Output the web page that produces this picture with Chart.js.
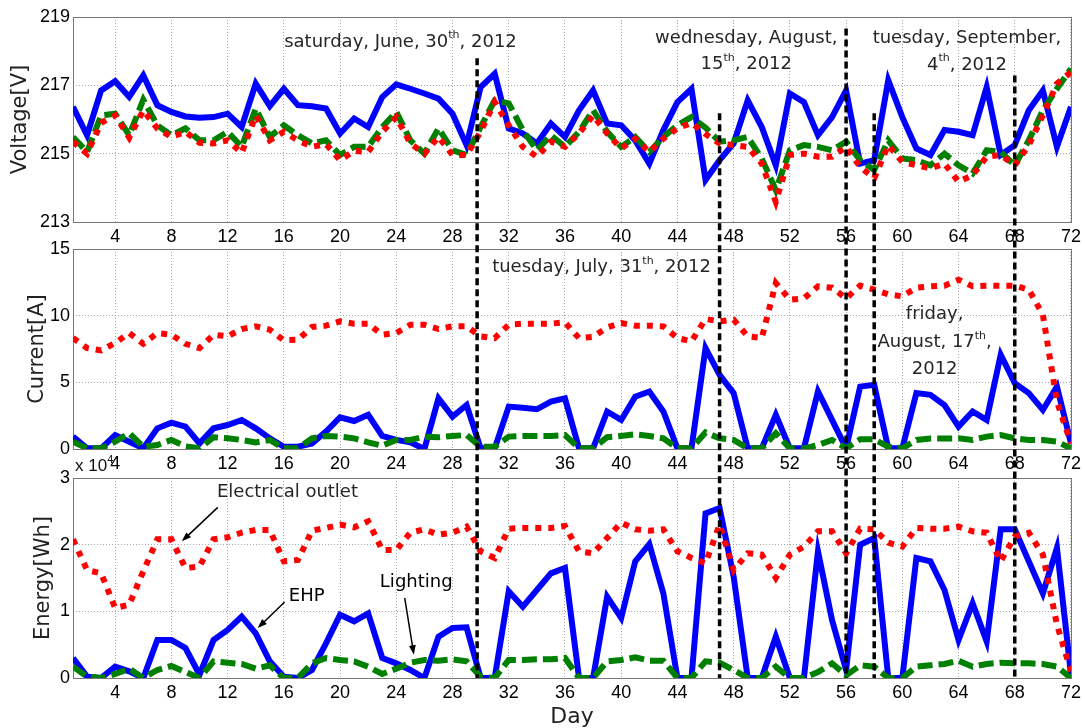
<!DOCTYPE html>
<html>
<head>
<meta charset="utf-8">
<title>Voltage, current and energy per day</title>
<script src="https://cdn.jsdelivr.net/npm/chart.js@4.4.1/dist/chart.umd.min.js"></script>
<style>
  html, body { margin: 0; padding: 0; background: #fff; }
  #wrap { position: relative; width: 1085px; height: 728px; }
  #wrap canvas { position: absolute; left: 0; top: 0; }
</style>
</head>
<body>
<div id="wrap">
  <canvas id="voltageChart" width="1085" height="728"></canvas>
  <canvas id="currentChart" width="1085" height="728"></canvas>
  <canvas id="energyChart" width="1085" height="728"></canvas>
</div>
<script>
// --- Data (one value per day) ---
const days = Array.from({ length: 72 }, (_, i) => i + 1);
const dayTicks = [4, 8, 12, 16, 20, 24, 28, 32, 36, 40, 44, 48, 52, 56, 60, 64, 68, 72];

const voltageTicks = [213, 215, 217, 219];
const currentTicks = [0, 5, 10, 15];
const energyTicks = [0, 1, 2, 3];   // x 10^4 Wh

const voltageEHP = [216.37, 215.54, 216.85, 217.12, 216.66, 217.29, 216.42, 216.22, 216.09, 216.05, 216.07, 216.17, 215.78, 217.05, 216.39, 216.9, 216.42, 216.39, 216.32, 215.59, 216.03, 215.78, 216.66, 217.03, 216.9, 216.76, 216.61, 216.17, 215.25, 216.95, 217.34, 215.74, 215.59, 215.3, 215.88, 215.49, 216.27, 216.85, 215.88, 215.83, 215.39, 214.71, 215.69, 216.51, 216.9, 214.23, 214.81, 215.3, 216.56, 215.78, 214.66, 216.76, 216.51, 215.54, 216.07, 216.85, 214.71, 214.81, 217.15, 216.07, 215.15, 214.96, 215.69, 215.64, 215.54, 216.95, 214.96, 215.25, 216.27, 216.85, 215.2, 216.37];
const voltageLighting = [215.49, 215.05, 216.12, 216.17, 215.54, 216.58, 215.83, 215.54, 215.74, 215.39, 215.39, 215.64, 215.2, 216.32, 215.49, 215.83, 215.54, 215.3, 215.39, 214.96, 215.2, 215.2, 215.78, 216.22, 215.39, 215.0, 215.74, 215.1, 214.96, 215.78, 216.56, 216.47, 215.69, 215.1, 215.54, 215.2, 215.64, 216.27, 215.64, 215.2, 215.49, 215.05, 215.49, 215.83, 216.07, 215.76, 215.35, 215.39, 215.49, 214.86, 213.93, 215.1, 215.25, 215.2, 215.1, 215.35, 214.81, 214.52, 215.39, 214.86, 214.81, 214.66, 215.0, 214.66, 214.42, 215.1, 215.05, 214.66, 215.39, 216.27, 216.9, 217.49];
const voltageOutlet = [215.35, 215.0, 215.9, 216.12, 215.47, 216.27, 215.74, 215.49, 215.64, 215.32, 215.3, 215.39, 215.02, 216.12, 215.39, 215.64, 215.39, 215.2, 215.28, 214.81, 215.08, 215.05, 215.64, 216.07, 215.3, 215.0, 215.49, 214.96, 214.96, 215.64, 216.51, 215.83, 215.2, 214.91, 215.35, 215.2, 215.59, 216.12, 215.59, 215.15, 215.44, 215.05, 215.44, 215.74, 215.9, 215.57, 215.3, 215.25, 215.2, 214.71, 213.59, 214.96, 215.0, 214.91, 214.91, 215.2, 214.61, 214.28, 215.25, 214.76, 214.66, 214.57, 214.71, 214.18, 214.37, 214.91, 214.96, 214.66, 215.25, 216.12, 217.05, 217.39];

const currentEHP = [0.93, 0.05, 0.05, 1.05, 0.55, 0.05, 1.55, 1.98, 1.68, 0.42, 1.55, 1.8, 2.18, 1.55, 0.8, 0.17, 0.17, 0.42, 1.3, 2.38, 2.1, 2.56, 0.98, 0.68, 0.5, 0, 3.8, 2.43, 3.3, 0.05, 0.05, 3.18, 3.1, 2.98, 3.56, 3.8, 0.05, 0.05, 2.81, 2.18, 3.93, 4.31, 2.81, 0.05, 0.05, 7.57, 5.56, 4.19, 0.05, 0.05, 2.56, 0.05, 0.05, 4.31, 2.18, 0.05, 4.68, 4.81, 0.05, 0.05, 4.19, 4.06, 3.3, 1.68, 2.81, 2.18, 7.07, 4.94, 4.19, 2.93, 4.68, 0.42];
const currentLighting = [0.55, 0.05, 0.05, 0.55, 1.18, 0.17, 0.3, 0.68, 0.2, 0.05, 0.88, 0.8, 0.68, 0.5, 0.68, 0.05, 0.05, 0.8, 0.98, 0.93, 0.8, 0.5, 0.25, 0.68, 0.68, 0.93, 0.88, 0.98, 1.05, 0.17, 0.17, 0.93, 0.98, 0.98, 0.98, 1.05, 0.05, 0.05, 0.88, 0.98, 1.1, 0.98, 0.8, 0.05, 0.05, 1.24, 0.8, 0.68, 0.05, 0.05, 1.18, 0.05, 0.05, 0.3, 0.68, 0.05, 0.73, 0.73, 0.17, 0.05, 0.68, 0.78, 0.78, 0.8, 0.68, 0.93, 1.05, 0.8, 0.68, 0.68, 0.55, 0.05];
const currentOutlet = [8.32, 7.57, 7.39, 7.95, 8.7, 7.89, 8.7, 8.57, 7.89, 7.57, 8.57, 8.45, 9.0, 9.2, 8.95, 8.15, 8.2, 9.15, 9.25, 9.57, 9.4, 9.4, 8.57, 8.7, 9.32, 9.32, 9.0, 9.2, 9.2, 8.45, 8.32, 9.32, 9.4, 9.4, 9.4, 9.5, 8.32, 8.4, 9.12, 9.45, 9.25, 9.25, 9.2, 8.32, 8.07, 9.75, 9.57, 9.7, 8.45, 8.32, 12.45, 11.2, 11.3, 12.2, 12.1, 11.3, 12.25, 11.95, 11.6, 11.45, 12.1, 12.2, 12.25, 12.7, 12.2, 12.25, 12.25, 12.25, 11.95, 10.07, 3.56, 0.42];

const energyEHP = [0.3, 0.02, 0, 0.17, 0.1, 0, 0.57, 0.57, 0.45, 0.05, 0.57, 0.72, 0.92, 0.67, 0.25, 0.02, 0, 0.12, 0.52, 0.95, 0.85, 0.97, 0.3, 0.22, 0.12, 0, 0.62, 0.75, 0.76, 0, 0, 1.3, 1.07, 1.32, 1.57, 1.65, 0, 0, 1.22, 0.9, 1.75, 2.01, 1.27, 0, 0, 2.47, 2.55, 1.52, 0, 0, 0.62, 0, 0, 1.9, 0.87, 0.12, 2.0, 2.1, 0, 0, 1.8, 1.75, 1.32, 0.57, 1.12, 0.55, 2.23, 2.23, 1.75, 1.27, 1.95, 0.05];
const energyLighting = [0.17, 0.02, 0, 0.06, 0.14, 0, 0.12, 0.18, 0.09, 0, 0.25, 0.23, 0.21, 0.14, 0.19, 0, 0, 0.22, 0.3, 0.27, 0.25, 0.17, 0.06, 0.14, 0.23, 0.27, 0.26, 0.28, 0.25, 0.02, 0, 0.27, 0.27, 0.28, 0.28, 0.3, 0, 0, 0.25, 0.27, 0.31, 0.26, 0.26, 0, 0, 0.25, 0.23, 0.12, 0, 0, 0.17, 0, 0, 0.09, 0.22, 0.04, 0.19, 0.17, 0, 0, 0.17, 0.19, 0.21, 0.26, 0.17, 0.21, 0.23, 0.22, 0.22, 0.21, 0.17, 0];
const energyOutlet = [2.08, 1.62, 1.57, 1.05, 1.1, 1.6, 2.08, 2.08, 1.65, 1.67, 2.08, 2.11, 2.18, 2.22, 2.22, 1.75, 1.77, 2.21, 2.25, 2.3, 2.26, 2.35, 1.92, 1.92, 2.18, 2.23, 2.15, 2.18, 2.27, 1.9, 1.8, 2.24, 2.25, 2.25, 2.25, 2.28, 1.9, 1.87, 2.1, 2.33, 2.23, 2.21, 2.23, 1.9, 1.8, 1.72, 2.3, 1.62, 1.87, 1.85, 1.5, 1.85, 1.97, 2.2, 2.2, 1.87, 2.24, 2.23, 2.03, 1.97, 2.25, 2.24, 2.24, 2.27, 2.2, 2.18, 1.75, 2.12, 2.18, 1.85, 0.8, 0.1];

// dashed event markers: day and the voltage level where each one starts
const markerDays = [29.75, 47, 56, 58, 68];
const markerStart = [217.79, 216.18, 218.66, 216.18, 217.29];

// --- Look ---
const TICK_FONT = '"Liberation Sans", Arial, sans-serif';
const TEXT_FONT = '"DejaVu Sans", sans-serif';
const PLOT_LEFT = 73;
const PAD_RIGHT = 14;

// text with '^'-prefixed parts drawn as superscripts
function drawRichText(ctx, parts, x, y, align, size, family) {
  const base = size + 'px ' + family;
  const small = Math.round(size * 0.62) + 'px ' + family;
  let total = 0;
  parts.forEach(p => {
    const sup = p[0] === '^';
    ctx.font = sup ? small : base;
    total += ctx.measureText(sup ? p.slice(1) : p).width;
  });
  let cx = align === 'center' ? x - total / 2 : x;
  ctx.textAlign = 'left';
  ctx.textBaseline = 'middle';
  parts.forEach(p => {
    const sup = p[0] === '^';
    const t = sup ? p.slice(1) : p;
    ctx.font = sup ? small : base;
    ctx.fillText(t, cx, sup ? y - size * 0.38 : y);
    cx += ctx.measureText(t).width;
  });
}

function drawArrow(ctx, x1, y1, x2, y2) {
  const ang = Math.atan2(y2 - y1, x2 - x1);
  const len = 10;
  ctx.strokeStyle = '#000';
  ctx.fillStyle = '#000';
  ctx.lineWidth = 1.5;
  ctx.beginPath();
  ctx.moveTo(x1, y1);
  ctx.lineTo(x2 - Math.cos(ang) * len * 0.8, y2 - Math.sin(ang) * len * 0.8);
  ctx.stroke();
  ctx.beginPath();
  ctx.moveTo(x2, y2);
  ctx.lineTo(x2 - len * Math.cos(ang - 0.35), y2 - len * Math.sin(ang - 0.35));
  ctx.lineTo(x2 - len * Math.cos(ang + 0.35), y2 - len * Math.sin(ang + 0.35));
  ctx.closePath();
  ctx.fill();
}

// box around each plot area
const framePlugin = {
  id: 'frame',
  beforeDatasetsDraw(chart) {
    const { ctx, chartArea: a } = chart;
    ctx.save();
    ctx.strokeStyle = '#777';
    ctx.lineWidth = 1;
    ctx.strokeRect(a.left + 0.5, a.top + 0.5, a.right - a.left, a.bottom - a.top);
    ctx.restore();
  }
};

// text notes placed in data units
const notesPlugin = {
  id: 'notes',
  afterDraw(chart, args, opts) {
    const { ctx } = chart;
    const xs = chart.scales.x, ys = chart.scales.y;
    ctx.save();
    ctx.fillStyle = '#262626';
    (opts.items || []).forEach(n => {
      drawRichText(ctx, n.parts, xs.getPixelForValue(n.x), ys.getPixelForValue(n.y), n.align || 'center', 18, TEXT_FONT);
      if (n.arrow) {
        const [ax, ay, bx, by] = n.arrow;
        drawArrow(ctx, xs.getPixelForValue(ax), ys.getPixelForValue(ay), xs.getPixelForValue(bx), ys.getPixelForValue(by));
      }
    });
    if (opts.exponent) {
      ctx.fillStyle = '#111';
      drawRichText(ctx, ['x 10', '^4'], chart.chartArea.left + 2, chart.chartArea.top - 12, 'left', 17, TICK_FONT);
    }
    ctx.restore();
  }
};

const charts = {};

// dashed event markers running down through all three panels
const markersPlugin = {
  id: 'markers',
  afterDraw(chart) {
    const top = charts.voltage;
    if (!top) return;
    const { ctx } = chart;
    const yBottom = chart.scales.y.getPixelForValue(0);
    ctx.save();
    ctx.strokeStyle = '#000';
    ctx.lineWidth = 3.5;
    ctx.setLineDash([7, 4]);
    markerDays.forEach((d, i) => {
      const x = chart.scales.x.getPixelForValue(d);
      ctx.beginPath();
      ctx.moveTo(x, top.scales.y.getPixelForValue(markerStart[i]));
      ctx.lineTo(x, yBottom);
      ctx.stroke();
    });
    ctx.restore();
  }
};

function series(ehp, lighting, outlet) {
  const common = { pointRadius: 0, borderWidth: 6, tension: 0, fill: false, borderCapStyle: 'butt' };
  return [
    Object.assign({ label: 'Electrical outlet', data: outlet, borderColor: '#ff0000', borderDash: [6, 7] }, common),
    Object.assign({ label: 'Lighting', data: lighting, borderColor: '#008000', borderDash: [15, 6] }, common),
    Object.assign({ label: 'EHP', data: ehp, borderColor: '#0000ff' }, common)
  ];
}

function makePanel(id, cfg) {
  const titleLeft = cfg.titleCenter - 10.5;
  return new Chart(document.getElementById(id), {
    type: 'line',
    data: { labels: days, datasets: series(cfg.ehp, cfg.lighting, cfg.outlet) },
    plugins: [framePlugin, notesPlugin].concat(cfg.extra || []),
    options: {
      responsive: false,
      animation: false,
      layout: { padding: { left: titleLeft, right: PAD_RIGHT, top: cfg.top, bottom: cfg.bottom } },
      plugins: {
        legend: { display: false },
        tooltip: { enabled: false },
        notes: { items: cfg.notes, exponent: !!cfg.exponent }
      },
      scales: {
        x: {
          type: 'linear',
          min: 1,
          max: 72,
          afterBuildTicks: s => { s.ticks = dayTicks.map(v => ({ value: v })); },
          afterFit: s => { s.height = cfg.dayTitle ? 50 : 26; },
          grid: { color: '#a8a8a8', lineWidth: 1, drawTicks: false },
          border: { display: false, dash: [1, 2] },
          ticks: { padding: 4, color: '#000', maxRotation: 0, autoSkip: false, font: { family: TICK_FONT, size: 18 } },
          title: {
            display: !!cfg.dayTitle, text: 'Day', color: '#222',
            padding: { top: 0, bottom: 0 },
            font: { family: TEXT_FONT, size: 22, lineHeight: 1 }
          }
        },
        y: {
          min: cfg.ticks[0],
          max: cfg.ticks[cfg.ticks.length - 1],
          afterBuildTicks: s => { s.ticks = cfg.ticks.map(v => ({ value: v })); },
          afterFit: s => { s.width = PLOT_LEFT - titleLeft; },
          grid: { color: '#a8a8a8', lineWidth: 1, drawTicks: false },
          border: { display: false, dash: [1, 2] },
          ticks: { padding: 3, color: '#000', font: { family: TICK_FONT, size: 18 } },
          title: {
            display: true, text: cfg.title, color: '#222',
            padding: { top: 0, bottom: 0 },
            font: { family: TEXT_FONT, size: 21, lineHeight: 1 }
          }
        }
      }
    }
  });
}

charts.voltage = makePanel('voltageChart', {
  ehp: voltageEHP, lighting: voltageLighting, outlet: voltageOutlet,
  ticks: voltageTicks, title: 'Voltage[V]', titleCenter: 21,
  top: 17, bottom: 728 - 26 - 222,
  notes: [
    { x: 24.3, y: 218.26, parts: ['saturday, June, 30', '^th', ', 2012'] },
    { x: 48.9, y: 218.37, parts: ['wednesday, August,'] },
    { x: 48.9, y: 217.61, parts: ['15', '^th', ', 2012'] },
    { x: 64.6, y: 218.37, parts: ['tuesday, September,'] },
    { x: 64.6, y: 217.6, parts: ['4', '^th', ', 2012'] }
  ]
});

charts.current = makePanel('currentChart', {
  ehp: currentEHP, lighting: currentLighting, outlet: currentOutlet,
  ticks: currentTicks, title: 'Current[A]', titleCenter: 38,
  top: 249, bottom: 728 - 26 - 449,
  notes: [
    { x: 38.6, y: 13.6, parts: ['tuesday, July, 31', '^th', ', 2012'] },
    { x: 62.3, y: 10.08, parts: ['friday,'] },
    { x: 62.3, y: 7.97, parts: ['August, 17', '^th', ','] },
    { x: 62.3, y: 5.94, parts: ['2012'] }
  ]
});

charts.energy = makePanel('energyChart', {
  ehp: energyEHP, lighting: energyLighting, outlet: energyOutlet,
  ticks: energyTicks, title: 'Energy[Wh]', titleCenter: 44,
  top: 478, bottom: 0, dayTitle: true, exponent: true,
  extra: [markersPlugin],
  notes: [
    { x: 11.24, y: 2.78, align: 'left', parts: ['Electrical outlet'], arrow: [11.3, 2.56, 8.74, 2.05] },
    { x: 16.35, y: 1.22, align: 'left', parts: ['EHP'], arrow: [16.06, 1.14, 14.14, 0.75] },
    { x: 22.83, y: 1.44, align: 'left', parts: ['Lighting'], arrow: [24.6, 1.2, 25.25, 0.35] }
  ]
});
</script>
</body>
</html>
